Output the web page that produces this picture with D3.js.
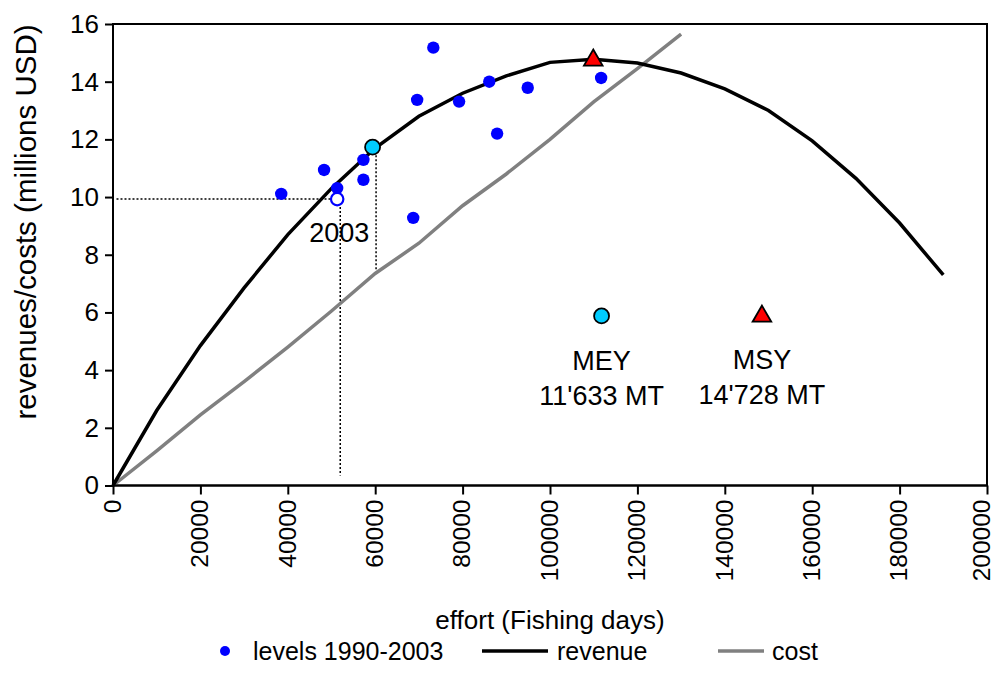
<!DOCTYPE html>
<html lang="en">
  <head>
    <meta charset="utf-8" />
    <title>Revenue and cost vs fishing effort</title>
    <script type="text/javascript" src="https://d3js.org/d3.v7.min.js"></script>
    <style>
      body {
        margin: 0;
        background: #fff;
      }
      svg text {
        font-family: "Liberation Sans", Arial, sans-serif;
        fill: #000;
      }
      .axis path,
      .axis line {
        stroke: #000;
        stroke-width: 2px;
      }
      .axis text {
        font-size: 26px;
      }
      .x.axis text {
        font-size: 24.5px;
      }
    </style>
  </head>
  <body>
    <script>
      let w = 997;
      let h = 688;
      let margin = { top: 24, right: 10, bottom: 202.5, left: 113 };

      // revenue curve (millions USD) at each 10000 fishing days
      let revenueEffort = [0, 10000, 20000, 30000, 40000, 50000, 60000, 70000, 80000, 90000,
        100000, 110000, 120000, 130000, 140000, 150000, 160000, 170000, 180000, 190000];
      let revenue = [0, 2.6, 4.85, 6.85, 8.7, 10.3, 11.7, 12.8, 13.6, 14.2,
        14.67, 14.78, 14.65, 14.3, 13.75, 13.0, 11.95, 10.65, 9.1, 7.3];

      // cost line
      let costEffort = [0, 10000, 20000, 30000, 40000, 50000, 60000, 70000, 80000, 90000,
        100000, 110000, 120000, 130000];
      let cost = [0, 1.2, 2.45, 3.6, 4.8, 6.05, 7.35, 8.4, 9.7, 10.8, 12.0, 13.3, 14.45, 15.65];

      // observed levels 1990-2003
      let levelEffort = [38500, 48300, 51300, 57300, 57300, 68700, 69600, 73300,
        79200, 86100, 87900, 94900, 111700];
      let levelValue = [10.11, 10.94, 10.31, 11.29, 10.6, 9.28, 13.37, 15.18,
        13.31, 14.0, 12.2, 13.79, 14.13];

      let year2003 = { effort: 51300, value: 9.93, label: "2003" };
      let meyPoint = { effort: 59400, value: 11.73 };
      let msyPoint = { effort: 109900, value: 14.78 };

      let meyNote = { effort: 111800, value: 5.88, lines: ["MEY", "11'633 MT"] };
      let msyNote = { effort: 148500, value: 5.9, lines: ["MSY", "14'728 MT"] };

      let xTicks = [0, 20000, 40000, 60000, 80000, 100000, 120000, 140000, 160000, 180000, 200000];
      let yTicks = [0, 2, 4, 6, 8, 10, 12, 14, 16];

      let svg = d3.select("body").append("svg").attr("width", w).attr("height", h);

      let x_scale = d3.scaleLinear().domain([0, 200000]).range([margin.left, w - margin.right]);
      let y_scale = d3.scaleLinear().domain([0, 16]).range([h - margin.bottom, margin.top]);

      // frame (top and right border)
      svg.append("rect")
        .attr("x", x_scale(0))
        .attr("y", y_scale(16))
        .attr("width", x_scale(200000) - x_scale(0))
        .attr("height", y_scale(0) - y_scale(16))
        .attr("fill", "none")
        .attr("stroke", "#000")
        .attr("stroke-width", 2);

      // dotted guide lines
      let dots = [
        [[800, year2003.value], [year2003.effort - 1000, year2003.value]],
        [[52000, year2003.value], [52000, 0.35]],
        [[60200, meyPoint.value], [60200, 7.45]],
      ];
      svg.selectAll(".guide")
        .data(dots)
        .join("line")
        .attr("class", "guide")
        .attr("x1", (d) => x_scale(d[0][0]))
        .attr("y1", (d) => y_scale(d[0][1]))
        .attr("x2", (d) => x_scale(d[1][0]))
        .attr("y2", (d) => y_scale(d[1][1]))
        .attr("stroke", "#000")
        .attr("stroke-width", 1.5)
        .attr("stroke-dasharray", "2,2");

      let revenueLine = d3.line()
        .x((d, i) => x_scale(revenueEffort[i]))
        .y((d) => y_scale(d));
      let costLine = d3.line()
        .x((d, i) => x_scale(costEffort[i]))
        .y((d) => y_scale(d));

      svg.append("path")
        .attr("d", costLine(cost))
        .attr("fill", "none")
        .attr("stroke", "#808080")
        .attr("stroke-width", 3.5);

      svg.append("path")
        .attr("d", revenueLine(revenue))
        .attr("fill", "none")
        .attr("stroke", "#000")
        .attr("stroke-width", 3.5);

      // observed points
      svg.selectAll(".level")
        .data(levelValue)
        .join("circle")
        .attr("class", "level")
        .attr("cx", (d, i) => x_scale(levelEffort[i]))
        .attr("cy", (d) => y_scale(d))
        .attr("r", 6.2)
        .attr("fill", "#0000ff");

      svg.append("circle")
        .attr("cx", x_scale(year2003.effort))
        .attr("cy", y_scale(year2003.value))
        .attr("r", 6.2)
        .attr("fill", "#fff")
        .attr("stroke", "#0000ff")
        .attr("stroke-width", 2.2);

      svg.append("text")
        .attr("x", x_scale(year2003.effort) + 2)
        .attr("y", y_scale(year2003.value) + 43)
        .attr("text-anchor", "middle")
        .style("font-size", "27px")
        .text(year2003.label);

      let triangle = d3.symbol().type(d3.symbolTriangle).size(150);

      function drawMey(p) {
        svg.append("circle")
          .attr("cx", x_scale(p.effort))
          .attr("cy", y_scale(p.value))
          .attr("r", 7.5)
          .attr("fill", "#00ccff")
          .attr("stroke", "#000")
          .attr("stroke-width", 1.8);
      }
      function drawMsy(p) {
        svg.append("path")
          .attr("d", triangle())
          .attr("transform", `translate(${x_scale(p.effort)},${y_scale(p.value) + 1})`)
          .attr("fill", "#ff0000")
          .attr("stroke", "#000")
          .attr("stroke-width", 1.8);
      }
      drawMey(meyPoint);
      drawMsy(msyPoint);
      drawMey(meyNote);
      drawMsy(msyNote);

      [meyNote, msyNote].forEach((n) => {
        svg.append("text")
          .attr("x", x_scale(n.effort))
          .attr("y", y_scale(n.value) + 54)
          .attr("text-anchor", "middle")
          .style("font-size", "27px")
          .selectAll("tspan")
          .data(n.lines)
          .join("tspan")
          .attr("x", x_scale(n.effort))
          .attr("dy", (d, i) => (i === 0 ? 0 : 35))
          .text((d) => d);
      });

      // axes
      let x_axis = d3.axisBottom(x_scale).tickValues(xTicks).tickFormat(d3.format("d")).tickSize(9);
      let y_axis = d3.axisLeft(y_scale).tickValues(yTicks).tickSize(8);

      let gx = svg.append("g")
        .attr("class", "x axis")
        .attr("transform", `translate(0,${h - margin.bottom})`)
        .call(x_axis);
      gx.select(".domain").attr("d", `M${x_scale(0)},0H${x_scale(200000)}`);
      gx.selectAll("text")
        .attr("transform", "rotate(-90)")
        .attr("x", -14)
        .attr("y", 0)
        // keep the last label inside the page edge
        .attr("dy", (d, i) => (i === xTicks.length - 1 ? "0.12em" : "0.3em"))
        .attr("text-anchor", "end");

      let gy = svg.append("g")
        .attr("class", "y axis")
        .attr("transform", `translate(${margin.left},0)`)
        .call(y_axis);
      gy.select(".domain").attr("d", `M0,${y_scale(0)}V${y_scale(16)}`);
      gy.selectAll("text").attr("x", -14);

      // axis titles
      svg.append("text")
        .attr("transform", "translate(36,222) rotate(-90)")
        .attr("text-anchor", "middle")
        .style("font-size", "29.5px")
        .text("revenues/costs (millions USD)");

      svg.append("text")
        .attr("x", 550)
        .attr("y", 629)
        .attr("text-anchor", "middle")
        .style("font-size", "26px")
        .text("effort (Fishing days)");

      // legend
      let legend = svg.append("g").attr("transform", "translate(0,651)");
      legend.append("circle").attr("cx", 225).attr("cy", 0).attr("r", 5).attr("fill", "#0000ff");
      legend.append("text").attr("x", 253).attr("y", 8.5).style("font-size", "25px").text("levels 1990-2003");
      legend.append("line").attr("x1", 482).attr("x2", 548).attr("y1", 0).attr("y2", 0)
        .attr("stroke", "#000").attr("stroke-width", 3.5);
      legend.append("text").attr("x", 557).attr("y", 8.5).style("font-size", "25px").text("revenue");
      legend.append("line").attr("x1", 718).attr("x2", 764).attr("y1", 0).attr("y2", 0)
        .attr("stroke", "#808080").attr("stroke-width", 3.5);
      legend.append("text").attr("x", 772).attr("y", 8.5).style("font-size", "25px").text("cost");
    </script>
  </body>
</html>
